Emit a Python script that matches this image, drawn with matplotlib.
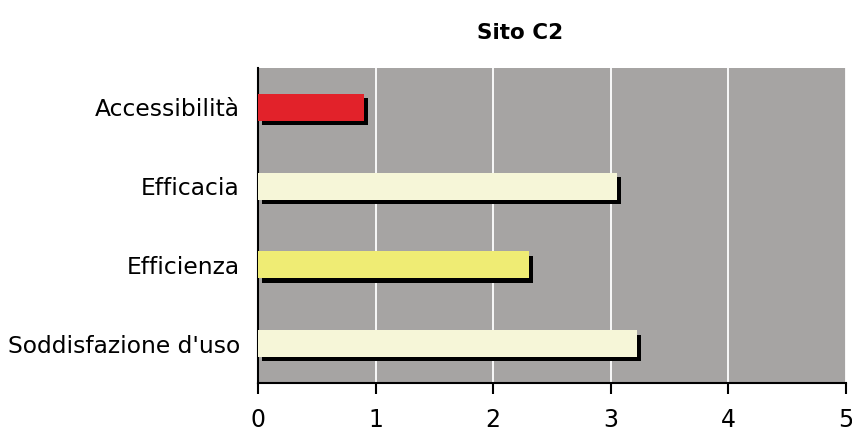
import matplotlib.pyplot as plt
import matplotlib.patheffects as pe

# Punteggi medi per indicatore, sito C2
categories = ["Accessibilità", "Efficacia", "Efficienza", "Soddisfazione d'uso"]
scores = [0.90, 3.05, 2.30, 3.22]
bar_colors = ["#E2222A", "#F6F6D8", "#EFEC74", "#F6F6D8"]
x_ticks = [0, 1, 2, 3, 4, 5]

fig = plt.figure(figsize=(8.53, 4.32), dpi=100)
ax = fig.add_axes([0.3025, 0.1134, 0.6893, 0.7292])
ax.set_facecolor("#A6A4A3")

y = range(len(categories))
shadow = [pe.SimplePatchShadow(offset=(3.2, -3.2), shadow_rgbFace="black", alpha=1.0),
          pe.Normal()]
bars = ax.barh(y, scores, height=0.34, color=bar_colors, zorder=3)
for b in bars:
    b.set_path_effects(shadow)

ax.set_xlim(0, 5)
ax.set_ylim(len(categories) - 0.5, -0.5)
ax.set_xticks(x_ticks)
ax.set_yticks(list(y))
ax.set_yticklabels(categories, fontsize=16.8)
ax.tick_params(axis="x", labelsize=17, length=8, width=1.5, pad=10, direction="out")
ax.tick_params(axis="y", length=0, pad=13)

ax.grid(axis="x", color="white", linewidth=1.3, zorder=1)
ax.set_axisbelow(True)
for side in ("top", "right"):
    ax.spines[side].set_visible(False)
ax.spines["left"].set_linewidth(1.5)
ax.spines["bottom"].set_linewidth(1.5)

fig.text(520 / 853, 1 - 33 / 432, "Sito C2", ha="center", va="center",
         fontsize=15.5, fontweight="bold")

fig.savefig("out.png", dpi=100)
